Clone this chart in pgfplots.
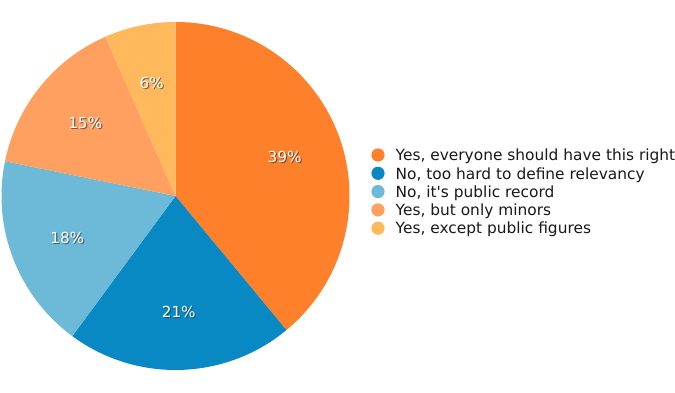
\documentclass[border=0pt]{standalone}
\usepackage{pgfplots}
\pgfplotsset{compat=1.18}
\usepackage{pgfplotstable}
\usepackage{fontspec}
\setmainfont{DejaVu Sans}
\definecolor{s1}{RGB}{255,128,42}
\definecolor{s2}{RGB}{8,137,196}
\definecolor{s3}{RGB}{108,185,216}
\definecolor{s4}{RGB}{255,160,96}
\definecolor{s5}{RGB}{255,185,92}
\newcommand\labfont{\fontsize{15.2}{18}\selectfont}
\newcommand\legfont{\fontsize{15.4}{18}\selectfont}
\pgfplotstableread{
value col lab name
39.0 s1 39 {Yes, everyone should have this right}
21.1 s2 21 {No, too hard to define relevancy}
18.1 s3 18 {No, it\textquotesingle s public record}
15.2 s4 15 {Yes, but only minors}
6.6  s5 6  {Yes, except public figures}
}\piedata
\begin{document}
\begin{tikzpicture}
\begin{axis}[x=1pt,y=1pt,xmin=0,xmax=675,ymin=0,ymax=392,hide axis,clip=false]
\coordinate (ll) at (axis cs:0,0);
\coordinate (ur) at (axis cs:675,392);
\def\startang{90}%
\pgfplotsforeachungrouped \i in {0,...,4}{%
  \pgfplotstablegetelem{\i}{value}\of\piedata \let\val\pgfplotsretval
  \pgfplotstablegetelem{\i}{col}\of\piedata \let\col\pgfplotsretval
  \pgfplotstablegetelem{\i}{lab}\of\piedata \let\lab\pgfplotsretval
  \pgfplotstablegetelem{\i}{name}\of\piedata \let\nam\pgfplotsretval
  \pgfmathsetmacro\endang{\startang-3.6*\val}%
  \pgfmathsetmacro\midang{(\startang+\endang)/2}%
  \pgfmathsetmacro\legy{392-160.7-18.3*\i}%
  \pgfmathsetmacro\circy{392-155-18.3*\i}%
  \edef\cmd{%
    \noexpand\fill[\col] (axis cs:175.5,196) -- ([shift={(\startang:174pt)}]axis cs:175.5,196) arc[start angle=\startang, end angle=\endang, radius=174pt] -- cycle;%
    \noexpand\node[text=black!80,opacity=0.65,font=\noexpand\labfont,inner sep=0pt] at ([shift={(\midang:116pt)},xshift=1.2pt,yshift=-1.2pt]axis cs:175.5,196) {\lab\noexpand\%};%
    \noexpand\node[text=white,font=\noexpand\labfont,inner sep=0pt] at ([shift={(\midang:116pt)}]axis cs:175.5,196) {\lab\noexpand\%};%
    \noexpand\fill[\col] (axis cs:378,\circy) circle[radius=6.6pt];%
    \noexpand\node[anchor=base west,inner sep=0pt,text=black!90,font=\noexpand\legfont] at (axis cs:395.5,\legy) {\nam};%
  }\cmd
  \let\startang\endang
}%
\end{axis}
\pgfresetboundingbox
\path[use as bounding box] (ll) rectangle (ur);
\end{tikzpicture}
\end{document}
